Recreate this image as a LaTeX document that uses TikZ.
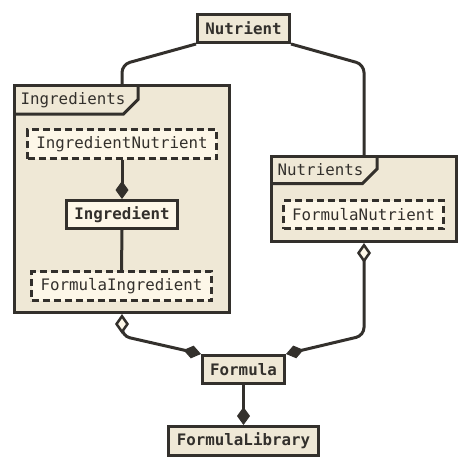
\documentclass[tikz,border=0pt]{standalone}
\usepackage{fontspec}
\setmonofont{DejaVu Sans Mono}
\usetikzlibrary{arrows.meta}
\definecolor{ink}{HTML}{33302C}
\definecolor{beige}{HTML}{EFE8D6}
\definecolor{cream}{HTML}{FDF7E8}
\tikzset{
  base/.style={draw=ink, line width=3pt, text=ink, inner sep=0pt,
    font=\ttfamily\fontsize{15.8}{18}\selectfont},
  cls/.style={base, fill=beige, font=\ttfamily\bfseries\fontsize{15.8}{18}\selectfont},
  clsin/.style={cls, fill=cream},
  dbox/.style={base, fill=cream, dash pattern=on 7pt off 4pt},
  pkg/.style={base, fill=beige},
  pkglabel/.style={anchor=base west, inner sep=0pt, text=ink,
    font=\ttfamily\fontsize{15.8}{18}\selectfont},
  tabline/.style={draw=ink, line width=3pt, line join=miter},
  conn/.style={draw=ink, line width=3pt, rounded corners=8pt},
  comp/.style={-{Diamond[length=18pt,width=13pt,line width=1pt]}},
  aggcomp/.style={{Diamond[open,fill=cream,length=20pt,width=14pt,line width=2.5pt]}-{Diamond[length=18pt,width=13pt,line width=1pt]}},
}
\begin{document}
\begin{tikzpicture}[x=1pt,y=-1pt]
\useasboundingbox (0,0) rectangle (470,469);
% packages
\node[pkg, minimum width=215pt, minimum height=227pt] (ingredients) at (122,199) {};
\draw[tabline] ([xshift=125pt]ingredients.north west) -- ++(0,15.5) -- ++(-14.5,14.5) -- ([yshift=-30pt]ingredients.north west);
\node[pkglabel] (ingredientslbl) at ([xshift=7.5pt,yshift=-20.5pt]ingredients.north west) {Ingredients};

\node[pkg, minimum width=185pt, minimum height=85pt] (nutrients) at (364,199) {};
\draw[tabline] ([xshift=107pt]nutrients.north west) -- ++(0,14) -- ++(-14.5,14.5) -- ([yshift=-28.5pt]nutrients.north west);
\node[pkglabel] (nutrientslbl) at ([xshift=7.5pt,yshift=-20.5pt]nutrients.north west) {Nutrients};

% classes
\node[cls, minimum width=92pt, minimum height=28pt] (nutrient) at (243.5,28.5) {Nutrient};
\node[dbox, minimum width=189pt, minimum height=29pt] (ingrnutr) at (122,144) {IngredientNutrient};
\node[clsin, minimum width=111pt, minimum height=28pt] (ingredient) at (122,214.5) {Ingredient};
\node[dbox, minimum width=180pt, minimum height=29pt] (formingr) at (121.5,286) {FormulaIngredient};
\node[dbox, minimum width=160pt, minimum height=28pt] (formnutr) at (363.5,214.5) {FormulaNutrient};
\node[cls, minimum width=82pt, minimum height=28pt] (formula) at (243.5,369.5) {Formula};
\node[cls, minimum width=150pt, minimum height=29pt] (formlib) at (243.5,441) {FormulaLibrary};

% connectors
\draw[conn] (nutrient.south west) -- (ingredients.north |- 0,64.5) -- (ingredients.north);
\draw[conn] (nutrient.south east) -- (nutrients.north |- 0,64.5) -- (nutrients.north);
\draw[conn, comp] (ingrnutr.south) -- (ingredient.north);
\draw[conn] (ingredient.south) -- (formingr.north);
\draw[conn, aggcomp] (ingredients.south) -- (ingredients.south |- 0,336) -- (formula.north west);
\draw[conn, aggcomp] (nutrients.south) -- (nutrients.south |- 0,335.5) -- (formula.north east);
\draw[conn, comp] (formula.south) -- (formlib.north);
\end{tikzpicture}
\end{document}
